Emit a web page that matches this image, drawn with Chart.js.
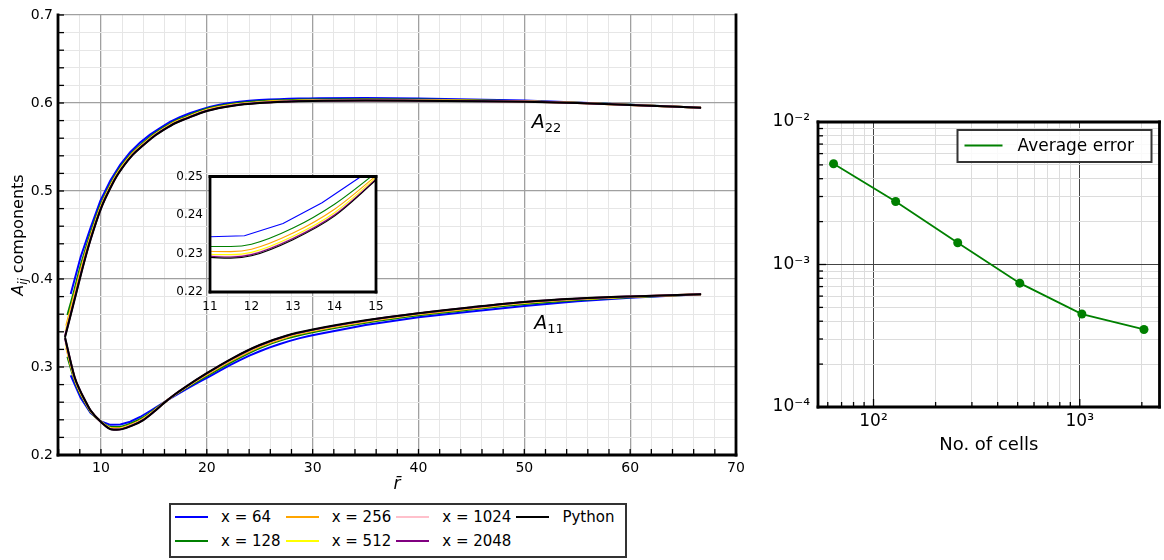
<!DOCTYPE html>
<html lang="en">
<head>
<meta charset="utf-8">
<title>A components and convergence</title>
<script src="https://cdn.jsdelivr.net/npm/chart.js@4.4.1/dist/chart.umd.min.js"></script>
<style>
  html, body { margin: 0; padding: 0; background: #fff; }
  body { position: relative; width: 1164px; height: 560px; overflow: hidden; font-family: 'DejaVu Sans', sans-serif; }
  .panel { position: absolute; }
  .panel canvas { display: block; }
  #series-legend {
    position: absolute; left: 169px; top: 503px;
    display: grid; grid-template-rows: 24px 24px; grid-auto-flow: column; column-gap: 5px;
    padding: 0 11px 3px 4px; border: 2px solid #333; background: #fff;
  }
  #series-legend .item { display: flex; align-items: center; font-size: 15px; color: #000; white-space: nowrap; }
  #series-legend .swatch { width: 33px; height: 2px; margin-right: 13px; }
</style>
</head>
<body>
<div class="panel" style="left:0;top:0;width:760px;height:500px"><canvas id="components"></canvas></div>
<div class="panel" style="left:168px;top:166px;width:216px;height:160px"><canvas id="zoomed"></canvas></div>
<div class="panel" style="left:760px;top:100px;width:404px;height:360px"><canvas id="convergence"></canvas></div>
<div id="series-legend"></div>

<script>
// --- series: one per grid resolution, plus the Python reference ---
const seriesNames = ['x = 64', 'x = 128', 'x = 256', 'x = 512', 'x = 1024', 'x = 2048', 'Python'];
const seriesColors = ['#0000ff', '#008000', '#ffa500', '#ffff00', '#ffc0cb', '#800080', '#000000'];

// cell centres of the coarse grid (sparser once the curves flatten out)
const r64 = [7.14, 8.08, 9.01, 9.95, 10.89, 11.83, 12.76, 13.70, 14.64, 15.58, 16.52, 17.45, 18.39, 19.33, 20.27,
             21.20, 22.14, 23.08, 24.02, 24.95, 25.89, 26.83, 27.77, 28.70, 29.64, 30.58, 35, 40, 45, 50, 55, 60, 66.7];
// shared positions for the finer grids, after each one's own first cell
const rFine = [7.5, 8, 8.5, 9, 10, 11, 11.5, 12, 13, 14, 15, 16, 17, 18, 20, 22.5, 25, 27.5, 30,
               35, 40, 45, 50, 55, 60, 66.7];
const rFirst = [6.83, 6.72, 6.66, 6.63, 6.61, 6.60];   // x = 128 ... Python

const A11_64 = [0.2905, 0.2650, 0.2480, 0.2385, 0.2343, 0.2346, 0.2378, 0.2432, 0.2500, 0.2570, 0.2640, 0.2706, 0.2770,
                0.2833, 0.2894, 0.2957, 0.3019, 0.3076, 0.3129, 0.3176, 0.3220, 0.3259, 0.3294, 0.3325, 0.3352, 0.3376,
                0.3478, 0.3565, 0.3630, 0.3693, 0.3748, 0.3786, 0.3826];
const A22_64 = [0.3830, 0.4250, 0.4580, 0.4890, 0.5120, 0.5300, 0.5440, 0.5550, 0.5640, 0.5715, 0.5786, 0.5840, 0.5883,
                0.5922, 0.5955, 0.5981, 0.6001, 0.6015, 0.6025, 0.6033, 0.6039, 0.6043, 0.6047, 0.6050, 0.6052, 0.6054,
                0.6057, 0.6052, 0.6041, 0.6027, 0.6005, 0.5980, 0.5947];

const A11_128 = [0.3117, 0.2848, 0.2703, 0.2596, 0.2494, 0.2380, 0.2318, 0.2318, 0.2324, 0.2366, 0.2428, 0.2510, 0.2600, 0.2685,
                 0.2759, 0.2900, 0.3068, 0.3216, 0.3323, 0.3395, 0.3503, 0.3588, 0.3653, 0.3716, 0.3762, 0.3793, 0.3826];
const A22_128 = [0.3590, 0.3882, 0.4117, 0.4320, 0.4514, 0.4853, 0.5102, 0.5207, 0.5297, 0.5442, 0.5549, 0.5647, 0.5727, 0.5795,
                 0.5844, 0.5934, 0.5991, 0.6019, 0.6032, 0.6039, 0.6043, 0.6039, 0.6032, 0.6021, 0.6003, 0.5979, 0.5947];

const A11_256 = [0.3220, 0.2865, 0.2718, 0.2606, 0.2501, 0.2378, 0.2306, 0.2305, 0.2311, 0.2353, 0.2415, 0.2502, 0.2598, 0.2687,
                 0.2766, 0.2912, 0.3083, 0.3230, 0.3336, 0.3408, 0.3514, 0.3598, 0.3664, 0.3726, 0.3769, 0.3797, 0.3826];
const A22_256 = [0.3470, 0.3831, 0.4068, 0.4283, 0.4483, 0.4831, 0.5085, 0.5192, 0.5282, 0.5429, 0.5537, 0.5636, 0.5716, 0.5785,
                 0.5834, 0.5924, 0.5982, 0.6011, 0.6025, 0.6032, 0.6036, 0.6033, 0.6027, 0.6019, 0.6002, 0.5978, 0.5947];

const A11_512 = [0.3270, 0.2877, 0.2729, 0.2613, 0.2505, 0.2377, 0.2298, 0.2297, 0.2303, 0.2345, 0.2406, 0.2497, 0.2597, 0.2688,
                 0.2770, 0.2921, 0.3094, 0.3240, 0.3345, 0.3416, 0.3522, 0.3605, 0.3672, 0.3733, 0.3773, 0.3799, 0.3826];
const A22_512 = [0.3410, 0.3797, 0.4035, 0.4257, 0.4462, 0.4816, 0.5073, 0.5181, 0.5271, 0.5420, 0.5529, 0.5628, 0.5708, 0.5778,
                 0.5827, 0.5917, 0.5976, 0.6006, 0.6020, 0.6028, 0.6032, 0.6029, 0.6024, 0.6017, 0.6001, 0.5977, 0.5947];

const A11_1024 = [0.3300, 0.2883, 0.2734, 0.2616, 0.2507, 0.2376, 0.2295, 0.2293, 0.2299, 0.2341, 0.2402, 0.2494, 0.2596, 0.2689,
                  0.2772, 0.2925, 0.3099, 0.3244, 0.3350, 0.3420, 0.3525, 0.3608, 0.3675, 0.3736, 0.3775, 0.3800, 0.3826];
const A22_1024 = [0.3370, 0.3781, 0.4020, 0.4245, 0.4453, 0.4809, 0.5067, 0.5176, 0.5266, 0.5415, 0.5525, 0.5625, 0.5705, 0.5774,
                  0.5824, 0.5914, 0.5974, 0.6003, 0.6018, 0.6026, 0.6030, 0.6027, 0.6023, 0.6016, 0.6000, 0.5977, 0.5947];

const A11_2048 = [0.3325, 0.2886, 0.2737, 0.2618, 0.2508, 0.2375, 0.2293, 0.2291, 0.2297, 0.2339, 0.2400, 0.2493, 0.2596, 0.2690,
                  0.2773, 0.2927, 0.3101, 0.3247, 0.3352, 0.3422, 0.3527, 0.3610, 0.3677, 0.3738, 0.3776, 0.3801, 0.3826];
const A22_2048 = [0.3352, 0.3772, 0.4011, 0.4239, 0.4447, 0.4805, 0.5064, 0.5174, 0.5264, 0.5413, 0.5523, 0.5623, 0.5703, 0.5772,
                  0.5822, 0.5912, 0.5972, 0.6002, 0.6017, 0.6025, 0.6029, 0.6026, 0.6022, 0.6016, 0.6000, 0.5977, 0.5947];

const A11_py = [0.3338, 0.2890, 0.2740, 0.2620, 0.2510, 0.2375, 0.2290, 0.2288, 0.2294, 0.2336, 0.2397, 0.2491, 0.2595, 0.2690,
                0.2775, 0.2930, 0.3105, 0.3250, 0.3355, 0.3425, 0.3530, 0.3612, 0.3680, 0.3740, 0.3778, 0.3802, 0.3826];
const A22_py = [0.3338, 0.3760, 0.4000, 0.4230, 0.4440, 0.4800, 0.5060, 0.5170, 0.5260, 0.5410, 0.5520, 0.5620, 0.5700, 0.5770,
                0.5820, 0.5910, 0.5970, 0.6000, 0.6015, 0.6023, 0.6027, 0.6025, 0.6021, 0.6015, 0.6000, 0.5977, 0.5947];

// --- convergence of the average error ---
const cellCounts = [64, 128, 256, 512, 1024, 2048];
const averageError = [5.09e-3, 2.77e-3, 1.42e-3, 7.4e-4, 4.49e-4, 3.50e-4];

const cellTicks = [60, 70, 80, 90, 100, 200, 300, 400, 500, 600, 700, 800, 900, 1000, 2000];
const cellTickLabels = ['', '', '', '', '10²', '', '', '', '', '', '', '', '', '10³', ''];
const errorTicks = [0.0001, 0.0002, 0.0003, 0.0004, 0.0005, 0.0006, 0.0007, 0.0008, 0.0009,
                    0.001, 0.002, 0.003, 0.004, 0.005, 0.006, 0.007, 0.008, 0.009, 0.01];
const errorTickLabels = ['10⁻⁴', '', '', '', '', '', '', '', '', '10⁻³', '', '', '', '', '', '', '', '', '10⁻²'];

const FONT = "'DejaVu Sans', sans-serif";
Chart.defaults.font.family = FONT;
Chart.defaults.color = '#000';
Chart.defaults.animation = false;
Chart.defaults.events = [];
Chart.defaults.plugins.legend.display = false;
Chart.defaults.plugins.tooltip.enabled = false;

const series = [
    { r: r64, a11: A11_64, a22: A22_64, smooth: false },
    { r: [rFirst[0], ...rFine], a11: A11_128, a22: A22_128, smooth: true },
    { r: [rFirst[1], ...rFine], a11: A11_256, a22: A22_256, smooth: true },
    { r: [rFirst[2], ...rFine], a11: A11_512, a22: A22_512, smooth: true },
    { r: [rFirst[3], ...rFine], a11: A11_1024, a22: A22_1024, smooth: true },
    { r: [rFirst[4], ...rFine], a11: A11_2048, a22: A22_2048, smooth: true },
    { r: [rFirst[5], ...rFine], a11: A11_py, a22: A22_py, smooth: true },
].map((s, i) => ({ ...s, name: seriesNames[i], color: seriesColors[i], order: seriesNames.length - 1 - i }));

// Chart.js paints lower `order` last, so the Python curve ends up on top
function lineDataset(s, values, width) {
    return {
        label: s.name,
        data: s.r.map((r, i) => ({ x: r, y: values[i] })),
        order: s.order,
        borderColor: s.color,
        borderWidth: width,
        pointRadius: 0,
        fill: false,
        tension: 0,
        cubicInterpolationMode: s.smooth ? 'monotone' : 'default',
    };
}

const isDecade = (v) => Math.abs(Math.log10(v) - Math.round(Math.log10(v))) < 1e-9;
const isTenth = (v) => Math.abs(v * 10 - Math.round(v * 10)) < 1e-6;
const isTen = (v) => Math.abs(v / 10 - Math.round(v / 10)) < 1e-9;

// spines and inward tick marks, drawn over the data
function frame({ sides, width, ticks = [] }) {
    return {
        id: 'frame',
        afterDraw(chart) {
            const { ctx, chartArea: a } = chart;
            ctx.save();
            ctx.strokeStyle = '#000';
            ctx.lineWidth = 1.3;
            ticks.forEach((t) => {
                const scale = chart.scales[t.axis];
                scale.ticks.forEach((tk) => {
                    const len = t.isMajor(tk.value) ? t.major : t.minor;
                    const p = scale.getPixelForValue(tk.value);
                    ctx.beginPath();
                    if (scale.isHorizontal()) {
                        ctx.moveTo(p, a.bottom);
                        ctx.lineTo(p, a.bottom - len);
                    } else {
                        ctx.moveTo(a.left, p);
                        ctx.lineTo(a.left + len, p);
                    }
                    ctx.stroke();
                });
            });
            ctx.lineWidth = width;
            ctx.lineCap = 'square';
            const ends = {
                left: [a.left, a.top, a.left, a.bottom],
                right: [a.right, a.top, a.right, a.bottom],
                top: [a.left, a.top, a.right, a.top],
                bottom: [a.left, a.bottom, a.right, a.bottom],
            };
            sides.forEach((side) => {
                const [x1, y1, x2, y2] = ends[side];
                ctx.beginPath();
                ctx.moveTo(x1, y1);
                ctx.lineTo(x2, y2);
                ctx.stroke();
            });
            ctx.restore();
        },
    };
}

// draws a run of differently styled pieces of text one after another
function drawRuns(ctx, runs, x, y, align) {
    let total = 0;
    runs.forEach((run) => { ctx.font = run.font; total += ctx.measureText(run.text).width; });
    let cx = align === 'center' ? x - total / 2 : x;
    runs.forEach((run) => {
        ctx.font = run.font;
        ctx.fillText(run.text, cx, y + (run.dy || 0));
        cx += ctx.measureText(run.text).width;
    });
}

function textLayer(draw) {
    return {
        id: 'textLayer',
        afterDraw(chart) {
            const ctx = chart.ctx;
            ctx.save();
            ctx.fillStyle = '#000';
            ctx.textBaseline = 'alphabetic';
            draw(chart, ctx);
            ctx.restore();
        },
    };
}

const whiteArea = {
    id: 'whiteArea',
    beforeDraw(chart) {
        const { ctx, chartArea: a } = chart;
        ctx.save();
        ctx.fillStyle = '#fff';
        ctx.fillRect(a.left, a.top, a.right - a.left, a.bottom - a.top);
        ctx.restore();
    },
};

// keep the plot box where the fixed axis sizes put it
const fixHeight = (h) => (scale) => { scale.height = h; scale.paddingLeft = 0; scale.paddingRight = 0; };
const fixWidth = (w) => (scale) => { scale.width = w; scale.paddingTop = 0; scale.paddingBottom = 0; };

// ---------------- main panel: A11 and A22 against r ----------------
const mainDatasets = [];
series.forEach((s) => {
    mainDatasets.push(lineDataset(s, s.a11, 2));
    mainDatasets.push(lineDataset(s, s.a22, 2));
});

new Chart(document.getElementById('components'), {
    type: 'line',
    data: { datasets: mainDatasets },
    options: {
        responsive: true,
        maintainAspectRatio: false,
        layout: { padding: { left: 0, top: 15, right: 24, bottom: 0 } },
        scales: {
            x: {
                type: 'linear',
                min: 5.94,
                max: 70,
                ticks: {
                    stepSize: 2,
                    includeBounds: false,
                    autoSkip: false,
                    maxRotation: 0,
                    padding: 5,
                    font: { size: 14 },
                    callback: (v) => (isTen(v) ? String(v) : ''),
                },
                grid: {
                    drawTicks: false,
                    color: (c) => (c.tick && isTen(c.tick.value) ? '#a0a0a0' : '#e6e6e6'),
                    lineWidth: (c) => (c.tick && isTen(c.tick.value) ? 1.3 : 1),
                },
                border: { display: false },
                afterFit: fixHeight(45),
            },
            y: {
                type: 'linear',
                min: 0.2,
                max: 0.7,
                ticks: {
                    stepSize: 0.02,
                    autoSkip: false,
                    padding: 5,
                    font: { size: 14 },
                    callback: (v) => (isTenth(v) ? v.toFixed(1) : ''),
                },
                grid: {
                    drawTicks: false,
                    color: (c) => (c.tick && isTenth(c.tick.value) ? '#a0a0a0' : '#e6e6e6'),
                    lineWidth: (c) => (c.tick && isTenth(c.tick.value) ? 1.3 : 1),
                },
                border: { display: false },
                afterFit: fixWidth(58),
            },
        },
    },
    plugins: [
        frame({
            sides: ['left', 'bottom', 'right'],
            width: 2.8,
            ticks: [
                { axis: 'x', minor: 6, major: 6, isMajor: isTen },
                { axis: 'y', minor: 6, major: 6, isMajor: isTenth },
            ],
        }),
        textLayer((chart, ctx) => {
            const { x, y } = chart.scales;
            drawRuns(ctx, [
                { text: 'A', font: `italic 19px ${FONT}` },
                { text: '22', font: `13px ${FONT}`, dy: 4 },
            ], x.getPixelForValue(50.7), y.getPixelForValue(0.5713), 'left');
            drawRuns(ctx, [
                { text: 'A', font: `italic 19px ${FONT}` },
                { text: '11', font: `13px ${FONT}`, dy: 4 },
            ], x.getPixelForValue(50.93), y.getPixelForValue(0.3428), 'left');

            const a = chart.chartArea;
            drawRuns(ctx, [{ text: 'r\u0304', font: `italic 17px ${FONT}` }], (a.left + a.right) / 2, 489, 'center');

            ctx.save();
            ctx.translate(18, (a.top + a.bottom) / 2);
            ctx.rotate(-Math.PI / 2);
            drawRuns(ctx, [
                { text: 'A', font: `italic 16px ${FONT}` },
                { text: 'ij', font: `italic 11.5px ${FONT}`, dy: 4 },
                { text: ' components', font: `16px ${FONT}` },
            ], 0, 5, 'center');
            ctx.restore();
        }),
    ],
});

// ---------------- inset: A11 around its minimum ----------------
new Chart(document.getElementById('zoomed'), {
    type: 'line',
    data: { datasets: series.map((s) => lineDataset(s, s.a11, 1.1)) },
    options: {
        responsive: true,
        maintainAspectRatio: false,
        layout: { padding: { left: 0, top: 10.5, right: 8, bottom: 0 } },
        scales: {
            x: {
                type: 'linear',
                min: 11,
                max: 15,
                ticks: { stepSize: 1, autoSkip: false, maxRotation: 0, padding: 8, font: { size: 12 } },
                grid: { display: false, drawTicks: false },
                border: { display: false },
                afterFit: fixHeight(34),
            },
            y: {
                type: 'linear',
                min: 0.22,
                max: 0.25,
                ticks: { stepSize: 0.01, autoSkip: false, padding: 7, font: { size: 12 }, callback: (v) => v.toFixed(2) },
                grid: { display: false, drawTicks: false },
                border: { display: false },
                afterFit: fixWidth(42),
            },
        },
    },
    plugins: [whiteArea, frame({ sides: ['left', 'bottom', 'right', 'top'], width: 2.8 })],
});

// ---------------- convergence panel ----------------
new Chart(document.getElementById('convergence'), {
    type: 'line',
    data: {
        datasets: [{
            label: 'Average error',
            data: cellCounts.map((n, i) => ({ x: n, y: averageError[i] })),
            borderColor: '#008000',
            backgroundColor: '#008000',
            borderWidth: 1.8,
            pointRadius: 4.5,
            pointBackgroundColor: '#008000',
            pointBorderColor: '#008000',
            pointBorderWidth: 0,
            tension: 0,
        }],
    },
    options: {
        responsive: true,
        maintainAspectRatio: false,
        layout: { padding: { left: 0, top: 22, right: 4, bottom: 0 } },
        scales: {
            x: {
                type: 'logarithmic',
                min: 53.8,
                max: 2436,
                afterBuildTicks: (scale) => { scale.ticks = cellTicks.map((v) => ({ value: v })); },
                ticks: {
                    autoSkip: false,
                    maxRotation: 0,
                    padding: 4,
                    font: { size: 17 },
                    callback: (v, i) => cellTickLabels[i],
                },
                grid: {
                    drawTicks: false,
                    color: (c) => (c.tick && isDecade(c.tick.value) ? '#444' : '#dcdcdc'),
                    lineWidth: 1,
                },
                border: { display: false },
                afterFit: fixHeight(53),
            },
            y: {
                type: 'logarithmic',
                min: 1e-4,
                max: 1e-2,
                afterBuildTicks: (scale) => { scale.ticks = errorTicks.map((v) => ({ value: v })); },
                ticks: {
                    autoSkip: false,
                    padding: 8,
                    font: { size: 17 },
                    callback: (v, i) => errorTickLabels[i],
                },
                grid: {
                    drawTicks: false,
                    color: (c) => (c.tick && isDecade(c.tick.value) ? '#444' : '#dcdcdc'),
                    lineWidth: 1,
                },
                border: { display: false },
                afterFit: fixWidth(58),
            },
        },
    },
    plugins: [
        frame({
            sides: ['left', 'bottom', 'right', 'top'],
            width: 2.8,
            ticks: [
                { axis: 'x', minor: 5, major: 8, isMajor: isDecade },
                { axis: 'y', minor: 5, major: 8, isMajor: isDecade },
            ],
        }),
        textLayer((chart, ctx) => {
            const a = chart.chartArea;
            drawRuns(ctx, [{ text: 'No. of cells', font: `18px ${FONT}` }], (a.left + a.right) / 2, 349.5, 'center');

            // legend box in the upper right corner
            const box = { x: a.right - 202, y: a.top + 8, w: 194, h: 32 };
            ctx.fillStyle = 'rgba(255,255,255,0.85)';
            ctx.fillRect(box.x, box.y, box.w, box.h);
            ctx.strokeStyle = '#333';
            ctx.lineWidth = 2;
            ctx.strokeRect(box.x, box.y, box.w, box.h);
            ctx.strokeStyle = '#008000';
            ctx.lineWidth = 1.8;
            ctx.beginPath();
            ctx.moveTo(box.x + 7, box.y + 15.5);
            ctx.lineTo(box.x + 45, box.y + 15.5);
            ctx.stroke();
            ctx.fillStyle = '#000';
            drawRuns(ctx, [{ text: 'Average error', font: `17px ${FONT}` }], box.x + 60, box.y + 21, 'left');
        }),
    ],
});

// ---------------- series legend under the main panel ----------------
const legendEl = document.getElementById('series-legend');
series.forEach((s) => {
    const item = document.createElement('div');
    item.className = 'item';
    const swatch = document.createElement('span');
    swatch.className = 'swatch';
    swatch.style.background = s.color;
    const label = document.createElement('span');
    label.textContent = s.name;
    item.append(swatch, label);
    legendEl.appendChild(item);
});
</script>
</body>
</html>
